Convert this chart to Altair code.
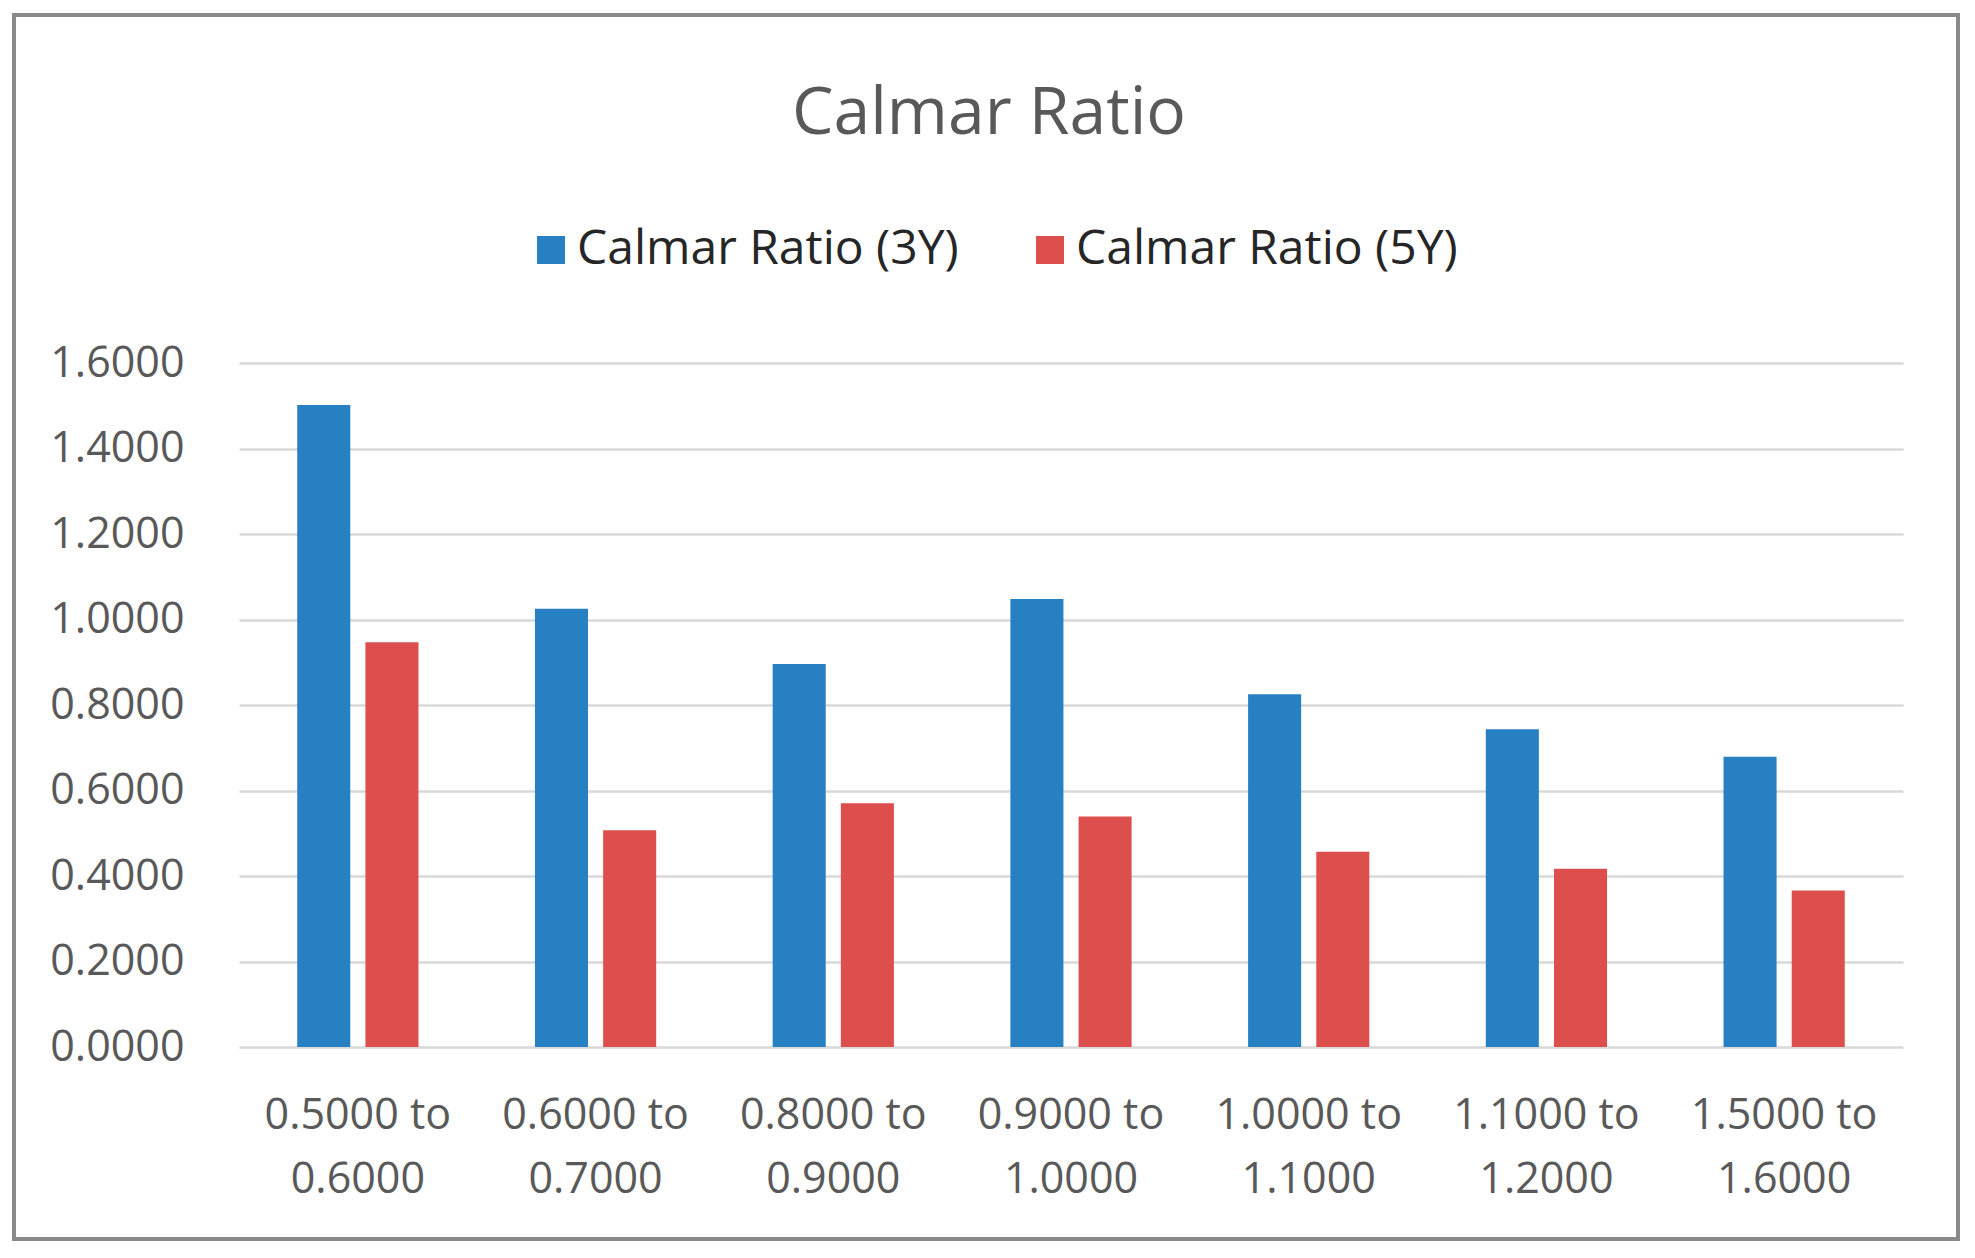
import altair as alt
import pandas as pd

categories = ["0.5000 to 0.6000", "0.6000 to 0.7000", "0.8000 to 0.9000",
              "0.9000 to 1.0000", "1.0000 to 1.1000", "1.1000 to 1.2000",
              "1.5000 to 1.6000"]
series = ["Calmar Ratio (3Y)", "Calmar Ratio (5Y)"]
calmar_3y = [1.502, 1.025, 0.896, 1.048, 0.825, 0.743, 0.679]
calmar_5y = [0.947, 0.507, 0.570, 0.539, 0.457, 0.417, 0.366]
y_ticks = [0.0, 0.2, 0.4, 0.6, 0.8, 1.0, 1.2, 1.4, 1.6]
colors = ["#2680C2", "#DC4F4D"]

rows = []
for c, a, b in zip(categories, calmar_3y, calmar_5y):
    rows.append({"range": c, "series": series[0], "value": a})
    rows.append({"range": c, "series": series[1], "value": b})
df = pd.DataFrame(rows)

FONT = "Open Sans"

bars = alt.Chart(df).mark_bar().encode(
    x=alt.X("range:N", sort=categories, title=None,
            scale=alt.Scale(paddingInner=0.49, paddingOuter=0.245),
            axis=alt.Axis(labelAngle=0,
                          labelExpr="[slice(datum.label, 0, 9), slice(datum.label, 10)]",
                          labelFontSize=43, labelColor="#595959", labelFont=FONT,
                          labelPadding=47, labelLineHeight=64, labelLimit=0,
                          ticks=False, domain=False, grid=False)),
    xOffset=alt.XOffset("series:N", sort=series,
                        scale=alt.Scale(paddingInner=0.222, paddingOuter=0)),
    y=alt.Y("value:Q", title=None,
            scale=alt.Scale(domain=[0, 1.6], nice=False),
            axis=alt.Axis(values=y_ticks, format=".4f", labelFontSize=43,
                          labelColor="#595959", labelFont=FONT, labelPadding=55,
                          ticks=False, domain=False, gridColor="#d9d9d9",
                          gridWidth=2.5)),
    color=alt.Color("series:N", sort=series,
                    scale=alt.Scale(domain=series, range=colors),
                    legend=alt.Legend(title=None, orient="none", legendX=288,
                                      legendY=-137, direction="horizontal",
                                      symbolType="square", symbolSize=784,
                                      symbolStrokeWidth=0, labelFontSize=48,
                                      labelColor="#262626", labelFont=FONT,
                                      labelOffset=2, columnPadding=67,
                                      labelLimit=0)),
)

frame = alt.Chart(pd.DataFrame({"f": [0]})).mark_rect(
    fillOpacity=0, stroke="#8a8a8a", strokeWidth=4
).encode(
    x=alt.value(-225), x2=alt.value(1719),
    y=alt.value(-348), y2=alt.value(876),
)

chart = alt.layer(frame, bars).properties(
    width=1664, height=684,
    autosize="none",
    padding={"left": 231, "top": 355, "right": 60, "bottom": 200},
    background="white",
    title=alt.TitleParams("Calmar Ratio", fontSize=66, font=FONT,
                          color="#595959", fontWeight="normal",
                          anchor="middle", frame="bounds", dx=3,
                          baseline="alphabetic", offset=-187),
).configure_view(strokeWidth=0)

chart.save("out.html", embed_options={"renderer": "svg", "actions": False})
